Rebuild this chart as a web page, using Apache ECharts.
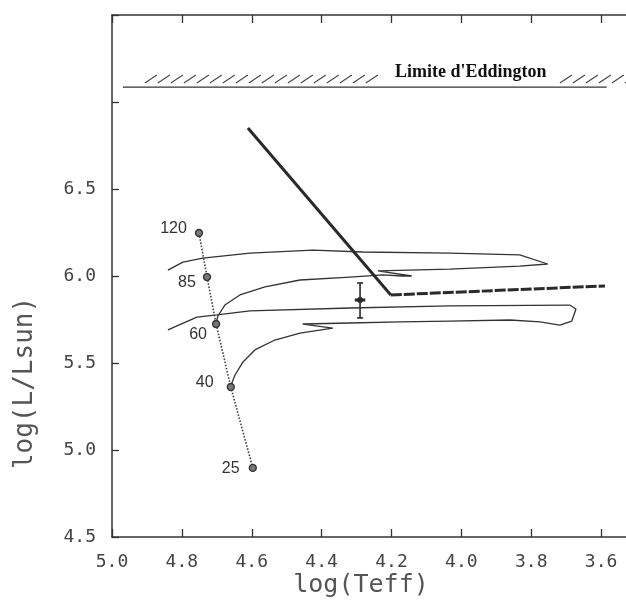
<!DOCTYPE html>
<html><head><meta charset="utf-8">
<script src="https://cdn.jsdelivr.net/npm/echarts@6/dist/echarts.min.js"></script>
<style>html,body{margin:0;padding:0;background:#fff}#c{width:626px;height:602px}</style>
</head><body><div id="c"></div>
<script>
// ---- data ----
const xTickLabels = ['5.0','4.8','4.6','4.4','4.2','4.0','3.8','3.6'];
const yTickLabels = ['4.5','5.0','5.5','6.0','6.5'];

const zamsMass = ['120','85','60','40','25'];
const zamsLogT = [4.751, 4.728, 4.702, 4.660, 4.597];
const zamsLogL = [6.247, 5.994, 5.724, 5.362, 4.897];

// evolutionary track starting near the 60 Msun ZAMS point
const trackALogT = [4.702,4.697,4.677,4.634,4.562,4.462,4.319,4.225,4.170,4.142,4.239,4.033,3.833,3.753,3.833,4.033,4.282,4.425,4.605,4.740,4.797,4.840];
const trackALogL = [5.730,5.770,5.833,5.891,5.937,5.977,5.994,6.006,6.000,6.000,6.029,6.040,6.057,6.069,6.121,6.132,6.138,6.149,6.132,6.103,6.080,6.034];

// evolutionary track starting near the 40 Msun ZAMS point
const trackBLogT = [4.660,4.648,4.625,4.591,4.534,4.462,4.368,4.454,4.319,4.176,4.033,3.861,3.775,3.718,3.684,3.672,3.690,4.033,4.319,4.605,4.700,4.757,4.840];
const trackBLogL = [5.368,5.431,5.506,5.575,5.632,5.672,5.701,5.724,5.730,5.736,5.741,5.747,5.736,5.718,5.741,5.810,5.833,5.828,5.816,5.799,5.776,5.764,5.690];

// heavy line (diagonal solid part, then flat dashed part)
const heavyDiagLogT = [4.611, 4.202];
const heavyDiagLogL = [6.851, 5.891];
const heavyFlatLogT = [4.202, 3.589];
const heavyFlatLogL = [5.891, 5.943];

// observed point with error bars
const obsLogT = [4.290];
const obsLogL = [5.862];
const obsLogLLow = [5.759];
const obsLogLHigh = [5.960];
const obsLogTErr = [0.015];

// Eddington limit
const eddLogL = 7.086;
const eddLogT = [4.969, 3.584];
const eddHatchLogT = [[4.906, 4.233], [3.718, 3.50]];
const eddLabel = "Limite d'Eddington";
const eddLabelLogT = 4.19;

// ---- styling / layout ----
const labelOffsets = [[-3,-4],[-2,6],[0,11],[-8,-4],[-4,1]];
const ink = '#333';
const mono = '"DejaVu Sans Mono", monospace';

const zip = (a, b) => a.map((v, i) => [v, b[i]]);

const chart = echarts.init(document.getElementById('c'), null, {renderer: 'canvas'});

const hatchData = eddHatchLogT.map(r => [r[0], r[1], eddLogL]);

const option = {
  animation: false,
  backgroundColor: '#fff',
  grid: {left: 112, top: 15, width: 559, height: 522, containLabel: false, outerBoundsMode: 'none'},
  xAxis: [{
    type: 'value', inverse: true, min: 3.4, max: 5.0, interval: 0.2, position: 'bottom',
    axisLine: {onZero: false, lineStyle: {color: ink, width: 1.5}},
    axisTick: {inside: true, length: 8, lineStyle: {color: ink, width: 1.3}},
    axisLabel: {
      margin: 16, color: '#444', fontFamily: mono, fontSize: 18,
      formatter: v => { const s = v.toFixed(1); return xTickLabels.includes(s) ? s : ''; }
    },
    splitLine: {show: false}
  }, {
    type: 'value', inverse: true, min: 3.4, max: 5.0, interval: 0.2, position: 'top',
    axisLine: {onZero: false, lineStyle: {color: ink, width: 1.5}},
    axisTick: {inside: true, length: 8, lineStyle: {color: ink, width: 1.3}},
    axisLabel: {show: false},
    splitLine: {show: false}
  }],
  yAxis: [{
    type: 'value', min: 4.5, max: 7.5, interval: 0.5, position: 'left',
    axisLine: {onZero: false, lineStyle: {color: ink, width: 1.5}},
    axisTick: {inside: true, length: 7, lineStyle: {color: ink, width: 1.3}},
    axisLabel: {
      margin: 16, color: '#444', fontFamily: mono, fontSize: 18,
      formatter: v => { const s = v.toFixed(1); return yTickLabels.includes(s) ? s : ''; }
    },
    splitLine: {show: false}
  }],
  graphic: [
    {type: 'text', x: 361, y: 585, style: {text: 'log(Teff)', font: '25px ' + mono, fill: '#555', align: 'center', verticalAlign: 'middle'}},
    {type: 'text', x: 25, y: 383, rotation: Math.PI / 2, style: {text: 'log(L/Lsun)', font: '26px ' + mono, fill: '#555', align: 'center', verticalAlign: 'middle'}},
  ],
  series: [
    {
      type: 'line', name: 'Eddington', data: zip(eddLogT, [eddLogL, eddLogL]),
      showSymbol: false, lineStyle: {color: ink, width: 1.2}, silent: true
    },
    {
      type: 'custom', name: 'hatch', data: hatchData, silent: true, clip: false,
      renderItem: (params, api) => {
        const p0 = api.coord([api.value(0), api.value(2)]);
        const p1 = api.coord([api.value(1), api.value(2)]);
        const children = [];
        for (let x = p0[0]; x <= p1[0] - 6; x += 13) {
          children.push({type: 'line', shape: {x1: x, y1: p0[1] - 4, x2: x + 12, y2: p0[1] - 12},
            style: {stroke: '#444', lineWidth: 1.1}});
        }
        return {type: 'group', children};
      }
    },
    {
      type: 'custom', name: 'eddLabel', data: [[eddLabelLogT, eddLogL]], silent: true, clip: false,
      renderItem: (params, api) => {
        const p = api.coord([api.value(0), api.value(1)]);
        return {type: 'text', style: {text: eddLabel, x: p[0], y: p[1] - 6, font: 'bold 18px "Liberation Serif", serif',
          fill: '#111', verticalAlign: 'bottom'}};
      }
    },
    {
      type: 'line', name: 'trackA', data: zip(trackALogT, trackALogL),
      showSymbol: false, lineStyle: {color: ink, width: 1.3}
    },
    {
      type: 'line', name: 'trackB', data: zip(trackBLogT, trackBLogL),
      showSymbol: false, lineStyle: {color: ink, width: 1.3}
    },
    {
      type: 'line', name: 'heavyDiag', data: zip(heavyDiagLogT, heavyDiagLogL),
      showSymbol: false, lineStyle: {color: '#2a2a2a', width: 3}
    },
    {
      type: 'line', name: 'heavyFlat', data: zip(heavyFlatLogT, heavyFlatLogL),
      showSymbol: false, lineStyle: {color: '#2a2a2a', width: 3, type: [11, 2]}
    },
    {
      type: 'line', name: 'ZAMS', data: zamsLogT.map((t, i) => ({
        value: [t, zamsLogL[i]],
        label: {offset: labelOffsets[i]}
      })),
      showSymbol: true, symbol: 'circle', symbolSize: 7,
      itemStyle: {color: '#777', borderColor: '#333', borderWidth: 1.3},
      lineStyle: {color: '#444', width: 1.6, type: 'dotted'},
      label: {
        show: true, position: 'left', distance: 5,
        formatter: p => zamsMass[p.dataIndex],
        fontFamily: '"Liberation Sans", Arial, sans-serif', fontSize: 16, color: '#333'
      }
    },
    {
      type: 'custom', name: 'observed', data: obsLogT.map((t, i) => [t, obsLogL[i], obsLogLLow[i], obsLogLHigh[i], obsLogTErr[i]]),
      renderItem: (params, api) => {
        const c = api.coord([api.value(0), api.value(1)]);
        const lo = api.coord([api.value(0), api.value(2)]);
        const hi = api.coord([api.value(0), api.value(3)]);
        const l = api.coord([api.value(0) + api.value(4), api.value(1)]);
        const r = api.coord([api.value(0) - api.value(4), api.value(1)]);
        const st = {stroke: '#2a2a2a', lineWidth: 1.6};
        return {type: 'group', children: [
          {type: 'line', shape: {x1: lo[0], y1: lo[1], x2: hi[0], y2: hi[1]}, style: st},
          {type: 'line', shape: {x1: lo[0] - 3, y1: lo[1], x2: lo[0] + 3, y2: lo[1]}, style: st},
          {type: 'line', shape: {x1: hi[0] - 3, y1: hi[1], x2: hi[0] + 3, y2: hi[1]}, style: st},
          {type: 'line', shape: {x1: l[0], y1: l[1], x2: r[0], y2: r[1]}, style: {stroke: '#2a2a2a', lineWidth: 3}},
          {type: 'circle', shape: {cx: c[0], cy: c[1], r: 3}, style: {fill: '#2a2a2a'}}
        ]};
      }
    }
  ]
};
chart.setOption(option);
</script>
</body></html>
